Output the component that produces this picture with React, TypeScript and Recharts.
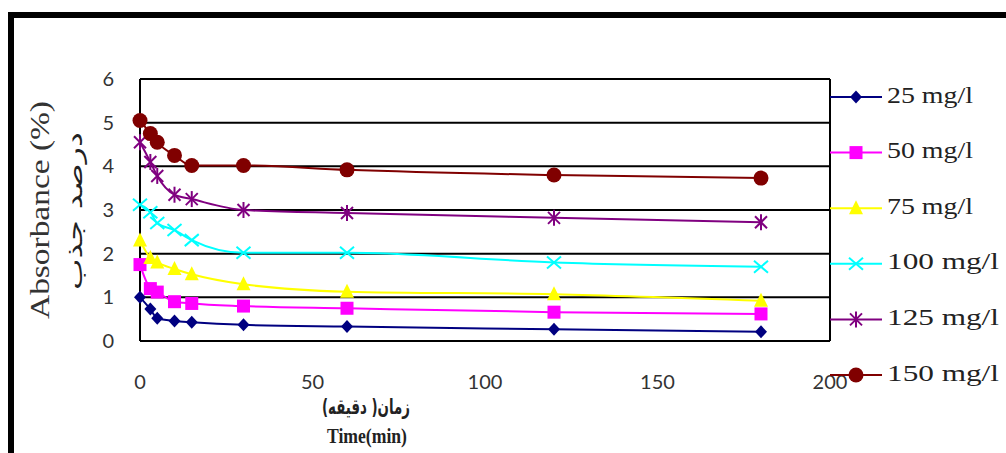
import React from 'react';
import { LineChart, Line, XAxis, YAxis, CartesianGrid, Legend, ReferenceLine } from 'recharts';

// زمان (دقیقه)
const times = [0, 3, 5, 10, 15, 30, 60, 120, 180];

// درصد جذب برای هر غلظت
const s25 = [1.0, 0.73, 0.52, 0.46, 0.43, 0.37, 0.33, 0.27, 0.21];
const s50 = [1.75, 1.2, 1.12, 0.9, 0.86, 0.8, 0.75, 0.66, 0.62];
const s75 = [2.3, 1.9, 1.8, 1.65, 1.53, 1.3, 1.13, 1.07, 0.92];
const s100 = [3.12, 2.95, 2.7, 2.54, 2.31, 2.02, 2.02, 1.8, 1.7];
const s125 = [4.55, 4.1, 3.78, 3.35, 3.25, 3.0, 2.93, 2.82, 2.72];
const s150 = [5.05, 4.75, 4.55, 4.25, 4.02, 4.02, 3.92, 3.8, 3.73];

const yTicks = [0, 1, 2, 3, 4, 5, 6];
const xTicks = [0, 50, 100, 150, 200];

const series = [
  { key: 'c25', name: '25 mg/l', color: '#000080', shape: 'diamond', values: s25 },
  { key: 'c50', name: '50 mg/l', color: '#FF00FF', shape: 'square', values: s50 },
  { key: 'c75', name: '75 mg/l', color: '#FFFF00', shape: 'triangle', values: s75 },
  { key: 'c100', name: '100 mg/l', color: '#00FFFF', shape: 'cross', values: s100 },
  { key: 'c125', name: '125 mg/l', color: '#800080', shape: 'star', values: s125 },
  { key: 'c150', name: '150 mg/l', color: '#800000', shape: 'circle', values: s150 },
];

const data = times.map((t, i) => {
  const row: any = { time: t };
  series.forEach(s => { row[s.key] = s.values[i]; });
  return row;
});

const marker = (shape: string, color: string, cx: number, cy: number, key?: any) => {
  if (shape === 'diamond') {
    return <polygon key={key} points={`${cx},${cy - 6.5} ${cx + 6},${cy} ${cx},${cy + 6.5} ${cx - 6},${cy}`} fill={color} />;
  }
  if (shape === 'square') {
    return <rect key={key} x={cx - 6.5} y={cy - 6.5} width={13} height={13} fill={color} />;
  }
  if (shape === 'triangle') {
    return <polygon key={key} points={`${cx},${cy - 8} ${cx + 7},${cy + 6} ${cx - 7},${cy + 6}`} fill={color} />;
  }
  if (shape === 'cross') {
    return (
      <g key={key} stroke={color} strokeWidth={2}>
        <line x1={cx - 7} y1={cy - 6} x2={cx + 7} y2={cy + 6} />
        <line x1={cx - 7} y1={cy + 6} x2={cx + 7} y2={cy - 6} />
      </g>
    );
  }
  if (shape === 'star') {
    return (
      <g key={key} stroke={color} strokeWidth={2}>
        <line x1={cx - 6} y1={cy - 6} x2={cx + 6} y2={cy + 6} />
        <line x1={cx - 6} y1={cy + 6} x2={cx + 6} y2={cy - 6} />
        <line x1={cx} y1={cy - 8} x2={cx} y2={cy + 8} />
      </g>
    );
  }
  return <circle key={key} cx={cx} cy={cy} r={7.5} fill={color} />;
};

const makeDot = (shape: string, color: string) => (props: any) => {
  const { cx, cy, index } = props;
  return marker(shape, color, cx, cy, `dot-${shape}-${index}`);
};

const renderLegend = () => (
  <svg width={180} height={320}>
    {series.map((s, i) => {
      const y = 19 + i * 55.6;
      return (
        <g key={s.key}>
          <line x1={4} y1={y} x2={56} y2={y} stroke={s.color} strokeWidth={2} />
          {marker(s.shape, s.color, 30, y)}
          <text x={61} y={y} dominantBaseline="middle" fontFamily="Liberation Serif" fontSize={24} fill="#222"
            textLength={s.name.length > 7 ? 112 : 86} lengthAdjust="spacingAndGlyphs">
            {s.name}
          </text>
        </g>
      );
    })}
  </svg>
);

const yLabel = () => (
  <g>
    <text x={43} y={210} transform="rotate(-90 43 210)" textAnchor="middle" dominantBaseline="middle"
      fontFamily="Liberation Serif" fontSize={27} fill="#333" textLength={218} lengthAdjust="spacingAndGlyphs">Absorbance (%)</text>
    <text x={76} y={211} transform="rotate(-90 76 211)" textAnchor="middle" dominantBaseline="middle"
      fontFamily="DejaVu Sans" fontSize={22} fill="#222" textLength={158} lengthAdjust="spacingAndGlyphs">درصد جذب</text>
  </g>
);

const xLabel = () => (
  <g>
    <text x={366} y={408} textAnchor="middle" dominantBaseline="middle"
      fontFamily="DejaVu Sans" fontWeight="bold" fontSize={21} fill="#222" textLength={88} lengthAdjust="spacingAndGlyphs">زمان( دقیقه)</text>
    <text x={367} y={438} textAnchor="middle" dominantBaseline="middle"
      fontFamily="Liberation Serif" fontWeight="bold" fontSize={22} fill="#222" textLength={80} lengthAdjust="spacingAndGlyphs">Time(min)</text>
  </g>
);

const App = () => {
  return (
    <div style={{ position: 'absolute', left: 0, top: 0, width: 1006, height: 453, overflow: 'hidden', background: '#fff' }}>
      <LineChart width={1006} height={453} data={data} margin={{ top: 79, right: 176, left: 100, bottom: 82 }}>
        <CartesianGrid vertical={false} stroke="#000" strokeWidth={2} />
        <XAxis dataKey="time" type="number" domain={[0, 200]} ticks={xTicks} height={30}
          axisLine={{ stroke: '#000', strokeWidth: 2 }} tickLine={false} tickSize={0} tickMargin={34}
          tick={{ fontFamily: 'Lato', fontSize: 20, fill: '#333' }} label={{ content: xLabel }} />
        <YAxis type="number" domain={[0, 6]} ticks={yTicks} width={40}
          axisLine={{ stroke: '#000', strokeWidth: 2 }} tickLine={false} tickSize={0} tickMargin={26}
          tick={{ fontFamily: 'Lato', fontSize: 20, fill: '#333' }} label={{ content: yLabel }} />
        <ReferenceLine x={200} stroke="#000" strokeWidth={2} />
        {series.map(s => (
          <Line key={s.key} type="monotone" dataKey={s.key} name={s.name} stroke={s.color} strokeWidth={2}
            dot={makeDot(s.shape, s.color)} activeDot={false} isAnimationActive={false} />
        ))}
        <Legend layout="vertical" align="center" verticalAlign="middle" content={renderLegend}
          wrapperStyle={{ left: 826, top: 78, width: 180, height: 320 }} />
      </LineChart>
      <div style={{ position: 'absolute', left: 8, top: 12, width: 1010, height: 460, borderTop: '6px solid #000', borderLeft: '6px solid #000', pointerEvents: 'none' }} />
    </div>
  );
};

export default App;
